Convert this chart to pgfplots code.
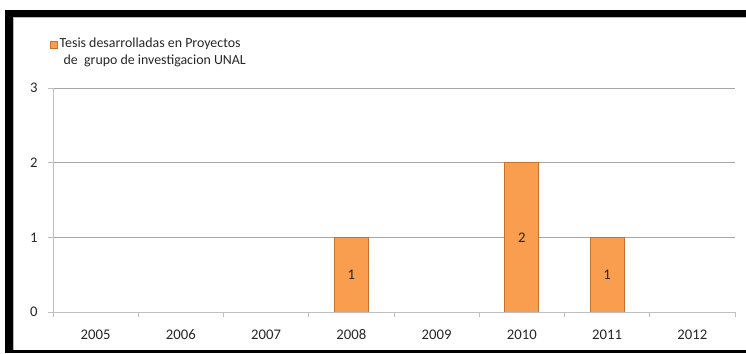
\documentclass[border=0pt]{standalone}
\usepackage{pgfplots}
\pgfplotsset{compat=1.18}
\usepackage{fontspec}
\setmainfont{Carlito}

\definecolor{barfill}{HTML}{F99E4E}
\definecolor{barline}{HTML}{C8702E}
\definecolor{gridc}{HTML}{A6A6A6}
\definecolor{axisc}{HTML}{BFBFBF}
\definecolor{txt}{HTML}{262626}

\begin{document}
\begin{tikzpicture}[font=\fontsize{14.7pt}{18pt}\selectfont]
\useasboundingbox (0,0) rectangle (746pt,353pt);
% outer frame
\fill[black] (5pt,0pt) rectangle (13pt,343pt);
\fill[black] (5pt,336pt) rectangle (746pt,343pt);
\fill[black] (5pt,0pt) rectangle (746pt,3pt);
\draw[gray!55, line width=1pt] (13.5pt,3pt) -- (13.5pt,335.5pt) -- (746pt,335.5pt);

\begin{axis}[
  at={(53pt,41pt)}, anchor=south west,
  scale only axis, width=682pt, height=224pt,
  xmin=-0.5, xmax=7.5, ymin=0, ymax=3,
  axis lines*=left,
  axis line style={axisc, line width=0.8pt},
  ytick={0,1,2,3},
  ymajorgrids, grid style={gridc, line width=0.8pt},
  xtick={0,...,7},
  xticklabels={2005,2006,2007,2008,2009,2010,2011,2012},
  minor xtick={-0.5,0.5,...,7.5},
  tick align=outside,
  major tick length=5pt, minor tick length=5pt,
  major x tick style={draw=none},
  minor x tick style={axisc, line width=0.8pt},
  major y tick style={axisc, line width=0.8pt},
  ticklabel style={text=txt},
  /pgf/number format/assume math mode=true,
  yticklabel style={xshift=-7pt},
  xticklabel style={yshift=-9pt},
  legend style={at={(axis description cs:0,1)}, anchor=south west,
    xshift=-6pt, yshift=18pt, draw=none, fill=none,
    font=\fontsize{13.9pt}{17pt}\selectfont,
    cells={align=left, text=txt}},
  legend cell align=left,
  legend image code/.code={\fill[barfill, draw=barline, line width=0.4pt] (0pt,4pt) rectangle (7pt,11pt);},
]
\addplot[ybar, bar width=34pt, draw=barline, line width=0.8pt, fill=barfill,
  nodes near coords,
  visualization depends on=y \as \rawy,
  every node near coord/.append style={anchor=center, text=txt,
    shift={(axis direction cs:0,-\rawy/2)}}]
  coordinates {(3,1) (5,2) (6,1)};
\addlegendentry{Tesis desarrolladas en Proyectos\\\hspace*{4pt}de\ \ grupo de investigacion UNAL}
\end{axis}
\end{tikzpicture}
\end{document}
